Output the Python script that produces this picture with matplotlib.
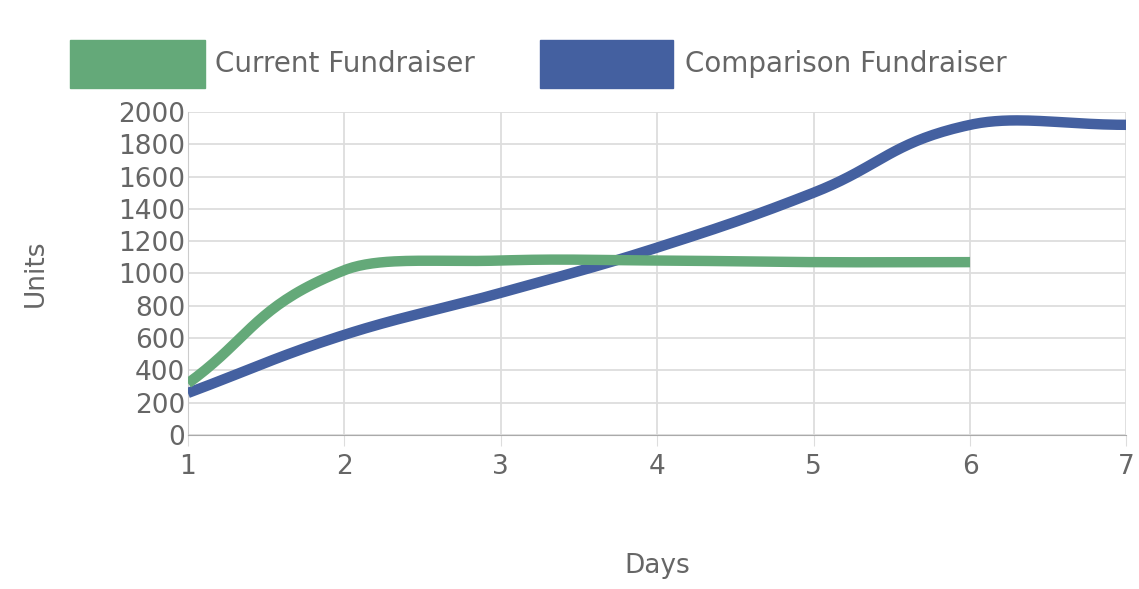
import matplotlib
matplotlib.use("Agg")
import matplotlib.pyplot as plt
import numpy as np
from matplotlib.patches import Rectangle

days = [1, 2, 3, 4, 5, 6, 7]
current = [320, 1020, 1080, 1080, 1070, 1070]
comparison = [260, 620, 880, 1160, 1500, 1920, 1920]
green = "#64a979"
blue = "#4460a0"

def smooth(xs, ys, t=0.4, n=40):
    xs = np.asarray(xs, float); ys = np.asarray(ys, float)
    m = len(xs)
    cp_prev, cp_next = [], []
    for i in range(m):
        p0 = (xs[max(i-1, 0)], ys[max(i-1, 0)])
        p1 = (xs[i], ys[i])
        p2 = (xs[min(i+1, m-1)], ys[min(i+1, m-1)])
        d01 = np.hypot(p1[0]-p0[0], p1[1]/300-p0[1]/300)
        d12 = np.hypot(p2[0]-p1[0], p2[1]/300-p1[1]/300)
        s = d01+d12
        fa = t*d01/s if s else 0
        fb = t*d12/s if s else 0
        cp_prev.append((p1[0]-fa*(p2[0]-p0[0]), p1[1]-fa*(p2[1]-p0[1])))
        cp_next.append((p1[0]+fb*(p2[0]-p0[0]), p1[1]+fb*(p2[1]-p0[1])))
    X, Y = [], []
    u = np.linspace(0, 1, n)
    for i in range(m-1):
        P0 = np.array([xs[i], ys[i]]); P1 = np.array(cp_next[i])
        P2 = np.array(cp_prev[i+1]); P3 = np.array([xs[i+1], ys[i+1]])
        B = ((1-u)**3)[:, None]*P0 + (3*(1-u)**2*u)[:, None]*P1 + (3*(1-u)*u**2)[:, None]*P2 + (u**3)[:, None]*P3
        X.extend(B[:, 0]); Y.extend(B[:, 1])
    return X, Y

fig = plt.figure(figsize=(11.39, 5.89), dpi=100)
ax = fig.add_axes([0.165, 0.2615, 0.824, 0.5485])
ax.plot(*smooth(days, comparison), color=blue, lw=7.5, solid_capstyle="butt", zorder=3)
ax.plot(*smooth(days[:6], current), color=green, lw=7.5, solid_capstyle="butt", zorder=4)
ax.set_xlim(1, 7)
ax.set_ylim(0, 2000)
ax.set_yticks(range(0, 2001, 200))
ax.set_xticks(days)
ax.grid(True, color="#dddddd", lw=1.3)
for s in ["top", "right"]:
    ax.spines[s].set_visible(False)
ax.spines["left"].set_color("#cccccc")
ax.spines["bottom"].set_color("#aaaaaa")
ax.tick_params(axis="y", labelsize=19, colors="#666666", length=0, pad=2)
ax.tick_params(axis="x", labelsize=19, colors="#666666", length=8, color="#dddddd", pad=6)
ax.set_ylabel("Units", fontsize=19, color="#666666", labelpad=50)
ax.set_xlabel("Days", fontsize=19, color="#666666", labelpad=52)

fig.patches.append(Rectangle((70/1139, 1-88/589), 135/1139, 48/589, transform=fig.transFigure, color=green))
fig.patches.append(Rectangle((540/1139, 1-88/589), 133/1139, 48/589, transform=fig.transFigure, color=blue))
fig.text(215/1139, 1-64/589, "Current Fundraiser", fontsize=20, color="#666666", va="center")
fig.text(685/1139, 1-64/589, "Comparison Fundraiser", fontsize=20, color="#666666", va="center")
fig.savefig("out.png", dpi=100)
